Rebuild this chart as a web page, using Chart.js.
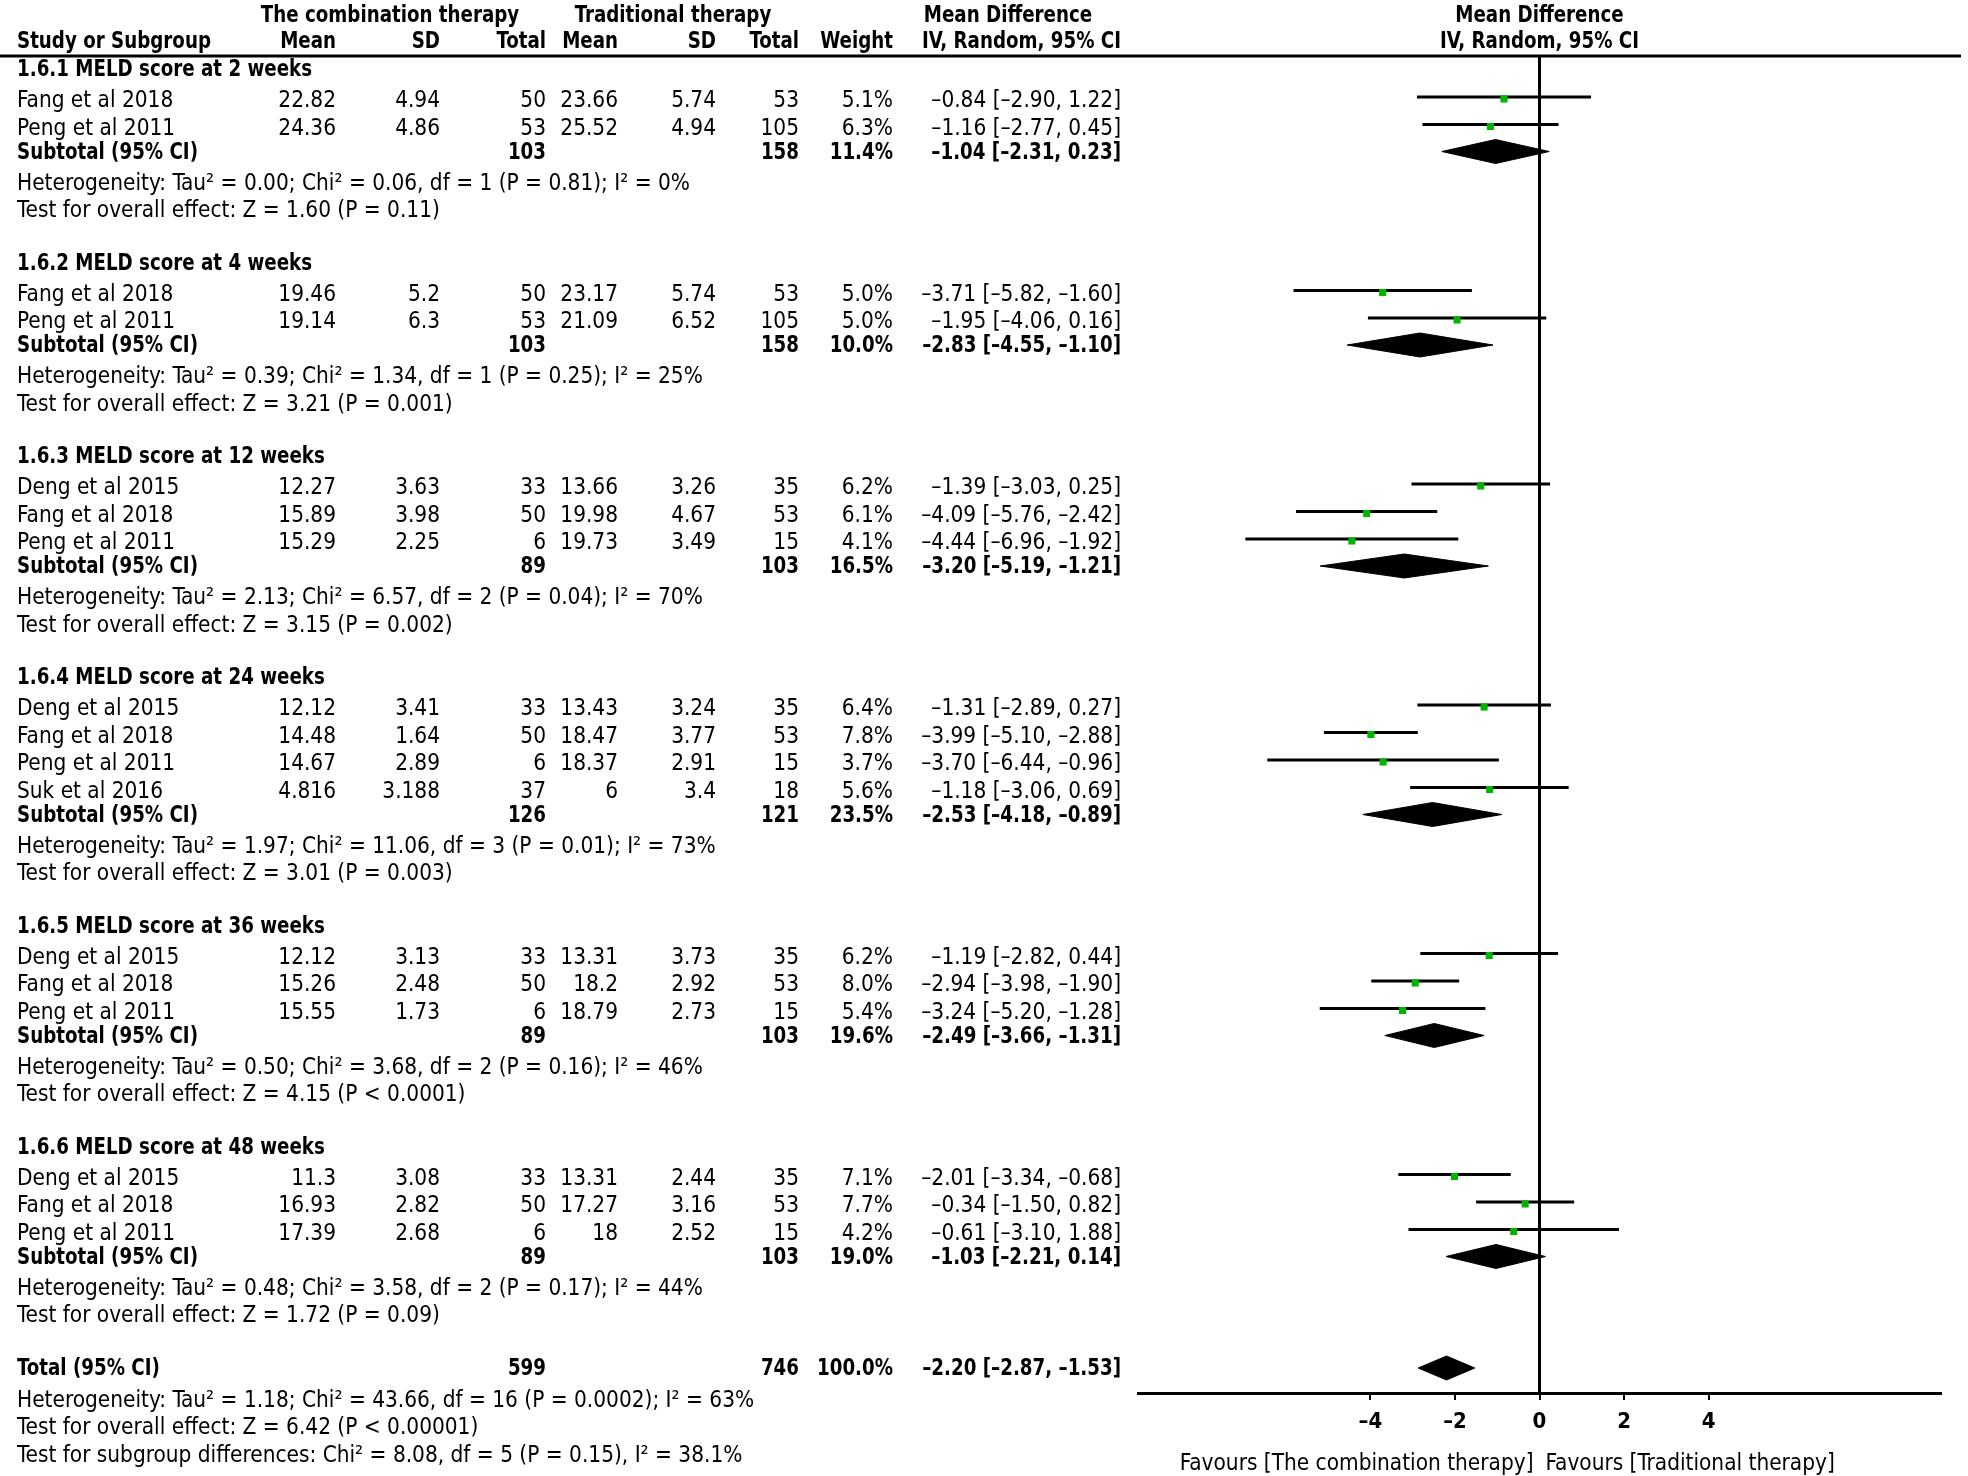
<!DOCTYPE html>
<html>
<head>
<meta charset="utf-8">
<script src="https://cdn.jsdelivr.net/npm/chart.js@4.4.1/dist/chart.umd.min.js"></script>
<style>
  html, body { margin: 0; padding: 0; background: #fff; }
  #wrap { width: 1968px; height: 1476px; position: relative; }
</style>
</head>
<body>
<div id="wrap"><canvas id="forest"></canvas></div>
<script>
// ---- data ----
var groupNames = ["1.6.1 MELD score at 2 weeks", "1.6.2 MELD score at 4 weeks", "1.6.3 MELD score at 12 weeks",
  "1.6.4 MELD score at 24 weeks", "1.6.5 MELD score at 36 weeks", "1.6.6 MELD score at 48 weeks"];

var studyGroup = [0, 0, 1, 1, 2, 2, 2, 3, 3, 3, 3, 4, 4, 4, 5, 5, 5];
var studyNames = ["Fang et al 2018", "Peng et al 2011", "Fang et al 2018", "Peng et al 2011",
  "Deng et al 2015", "Fang et al 2018", "Peng et al 2011",
  "Deng et al 2015", "Fang et al 2018", "Peng et al 2011", "Suk et al 2016",
  "Deng et al 2015", "Fang et al 2018", "Peng et al 2011",
  "Deng et al 2015", "Fang et al 2018", "Peng et al 2011"];
var comboMean = [22.82, 24.36, 19.46, 19.14, 12.27, 15.89, 15.29, 12.12, 14.48, 14.67, 4.816, 12.12, 15.26, 15.55, 11.3, 16.93, 17.39];
var comboSD = [4.94, 4.86, 5.2, 6.3, 3.63, 3.98, 2.25, 3.41, 1.64, 2.89, 3.188, 3.13, 2.48, 1.73, 3.08, 2.82, 2.68];
var comboN = [50, 53, 50, 53, 33, 50, 6, 33, 50, 6, 37, 33, 50, 6, 33, 50, 6];
var tradMean = [23.66, 25.52, 23.17, 21.09, 13.66, 19.98, 19.73, 13.43, 18.47, 18.37, 6, 13.31, 18.2, 18.79, 13.31, 17.27, 18];
var tradSD = [5.74, 4.94, 5.74, 6.52, 3.26, 4.67, 3.49, 3.24, 3.77, 2.91, 3.4, 3.73, 2.92, 2.73, 2.44, 3.16, 2.52];
var tradN = [53, 105, 53, 105, 35, 53, 15, 35, 53, 15, 18, 35, 53, 15, 35, 53, 15];
var studyWeight = [5.1, 6.3, 5.0, 5.0, 6.2, 6.1, 4.1, 6.4, 7.8, 3.7, 5.6, 6.2, 8.0, 5.4, 7.1, 7.7, 4.2];
var studyMD = [-0.84, -1.16, -3.71, -1.95, -1.39, -4.09, -4.44, -1.31, -3.99, -3.70, -1.18, -1.19, -2.94, -3.24, -2.01, -0.34, -0.61];
var studyLo = [-2.90, -2.77, -5.82, -4.06, -3.03, -5.76, -6.96, -2.89, -5.10, -6.44, -3.06, -2.82, -3.98, -5.20, -3.34, -1.50, -3.10];
var studyHi = [1.22, 0.45, -1.60, 0.16, 0.25, -2.42, -1.92, 0.27, -2.88, -0.96, 0.69, 0.44, -1.90, -1.28, -0.68, 0.82, 1.88];

var subComboN = [103, 103, 89, 126, 89, 89];
var subTradN = [158, 158, 103, 121, 103, 103];
var subWeight = [11.4, 10.0, 16.5, 23.5, 19.6, 19.0];
var subMD = [-1.04, -2.83, -3.20, -2.53, -2.49, -1.03];
var subLo = [-2.31, -4.55, -5.19, -4.18, -3.66, -2.21];
var subHi = [0.23, -1.10, -1.21, -0.89, -1.31, 0.14];
var subHet = [
  "Heterogeneity: Tau\u00b2 = 0.00; Chi\u00b2 = 0.06, df = 1 (P = 0.81); I\u00b2 = 0%",
  "Heterogeneity: Tau\u00b2 = 0.39; Chi\u00b2 = 1.34, df = 1 (P = 0.25); I\u00b2 = 25%",
  "Heterogeneity: Tau\u00b2 = 2.13; Chi\u00b2 = 6.57, df = 2 (P = 0.04); I\u00b2 = 70%",
  "Heterogeneity: Tau\u00b2 = 1.97; Chi\u00b2 = 11.06, df = 3 (P = 0.01); I\u00b2 = 73%",
  "Heterogeneity: Tau\u00b2 = 0.50; Chi\u00b2 = 3.68, df = 2 (P = 0.16); I\u00b2 = 46%",
  "Heterogeneity: Tau\u00b2 = 0.48; Chi\u00b2 = 3.58, df = 2 (P = 0.17); I\u00b2 = 44%"];
var subTest = [
  "Test for overall effect: Z = 1.60 (P = 0.11)",
  "Test for overall effect: Z = 3.21 (P = 0.001)",
  "Test for overall effect: Z = 3.15 (P = 0.002)",
  "Test for overall effect: Z = 3.01 (P = 0.003)",
  "Test for overall effect: Z = 4.15 (P < 0.0001)",
  "Test for overall effect: Z = 1.72 (P = 0.09)"];

var totalComboN = 599, totalTradN = 746, totalWeight = 100.0;
var totalMD = -2.20, totalLo = -2.87, totalHi = -1.53;
var totalNotes = [
  "Heterogeneity: Tau\u00b2 = 1.18; Chi\u00b2 = 43.66, df = 16 (P = 0.0002); I\u00b2 = 63%",
  "Test for overall effect: Z = 6.42 (P < 0.00001)",
  "Test for subgroup differences: Chi\u00b2 = 8.08, df = 5 (P = 0.15), I\u00b2 = 38.1%"];

var xTicks = [-4, -2, 0, 2, 4];
var favourLeft = "Favours [The combination therapy]";
var favourRight = "Favours [Traditional therapy]";

// ---- layout (rows in pixel units of the y scale) ----
var FONT = "'Liberation Sans Narrow', 'DejaVu Sans Condensed', 'DejaVu Sans', sans-serif";
var GREEN = "#00b400";
var DASH = "\u2013";
var groupY = [], studyY = [], subY = [], hetY = [], testY = [];
var y = 69, k = 0;
for (var g = 0; g < groupNames.length; g++) {
  groupY[g] = y; y += 31;
  while (k < studyGroup.length && studyGroup[k] === g) { studyY[k] = y; y += 27.5; k++; }
  subY[g] = y - 3.5;
  hetY[g] = subY[g] + 31;
  testY[g] = hetY[g] + 27.5;
  y = testY[g] + 52.5;
}
var totalY = y + 0.5;
var totalNoteY = [totalY + 31.5, totalY + 59, totalY + 86.5];

function num(v) { return (v < 0 ? DASH : "") + Math.abs(v).toFixed(2); }
function ciText(m, lo, hi) { return num(m) + " [" + num(lo) + ", " + num(hi) + "]"; }

// ---- datasets ----
var datasets = [];
datasets.push({
  label: "points", order: 0, showLine: false,
  data: studyMD.map(function (m, i) { return { x: m, y: studyY[i] - 1 }; }),
  pointStyle: "rect", pointRadius: 5, pointBackgroundColor: GREEN, pointBorderWidth: 0
});
studyMD.forEach(function (m, i) {
  datasets.push({
    label: "ci" + i, order: 1, borderColor: "#000", borderWidth: 3, pointRadius: 0,
    data: [{ x: studyLo[i], y: studyY[i] - 3 }, { x: studyHi[i], y: studyY[i] - 3 }]
  });
});
function diamond(m, lo, hi, yy) {
  return [{ x: lo, y: yy }, { x: m, y: yy - 12 }, { x: hi, y: yy }, { x: m, y: yy + 12 }, { x: lo, y: yy }];
}
subMD.forEach(function (m, g) {
  datasets.push({
    label: "sub" + g, order: 1, borderColor: "#000", backgroundColor: "#000", borderWidth: 1,
    pointRadius: 0, fill: "shape", tension: 0, data: diamond(m, subLo[g], subHi[g], subY[g])
  });
});
datasets.push({
  label: "total", order: 1, borderColor: "#000", backgroundColor: "#000", borderWidth: 1,
  pointRadius: 0, fill: "shape", tension: 0, data: diamond(totalMD, totalLo, totalHi, totalY)
});
datasets.push({
  label: "zero", order: 2, borderColor: "#000", borderWidth: 3, pointRadius: 0,
  data: [{ x: 0, y: 56 }, { x: 0, y: 1393 }]
});

// ---- table text ----
var tablePlugin = {
  id: "tableText",
  afterDraw: function (chart) {
    var ctx = chart.ctx, ys = chart.scales.y, xs = chart.scales.x;
    function py(v) { return ys.getPixelForValue(v) + 1.5; }

    // squeeze the installed font to the width of the original's condensed face
    ctx.font = "23px " + FONT;
    var sxReg = 673 / ctx.measureText(subHet[0]).width;
    ctx.font = "bold 23px " + FONT;
    var sxBold = 181 / ctx.measureText("Subtotal (95% CI)").width;

    function txt(s, x, yy, align, bold) {
      ctx.font = (bold ? "bold " : "") + "23px " + FONT;
      ctx.textAlign = align;
      ctx.save();
      ctx.translate(x, yy);
      ctx.scale(bold ? sxBold : sxReg, 1);
      ctx.fillText(s, 0, 0);
      ctx.restore();
    }
    ctx.save();
    ctx.fillStyle = "#000";
    ctx.textBaseline = "middle";

    // header
    var xc = xs.getPixelForValue(0);
    txt("The combination therapy", 390, 16, "center", true);
    txt("Traditional therapy", 673, 16, "center", true);
    txt("Mean Difference", 1008, 16, "center", true);
    txt("Mean Difference", xc, 16, "center", true);
    txt("Study or Subgroup", 17, 42, "left", true);
    txt("Mean", 336, 42, "right", true);
    txt("SD", 440, 42, "right", true);
    txt("Total", 546, 42, "right", true);
    txt("Mean", 618, 42, "right", true);
    txt("SD", 716, 42, "right", true);
    txt("Total", 799, 42, "right", true);
    txt("Weight", 893, 42, "right", true);
    txt("IV, Random, 95% CI", 1121, 42, "right", true);
    txt("IV, Random, 95% CI", xc, 42, "center", true);

    ctx.strokeStyle = "#000";
    ctx.lineWidth = 3;
    ctx.beginPath();
    ctx.moveTo(0, 56); ctx.lineTo(1961, 56);
    ctx.stroke();

    for (var g = 0; g < groupNames.length; g++) {
      txt(groupNames[g], 17, py(groupY[g]), "left", true);
      txt("Subtotal (95% CI)", 17, py(subY[g]), "left", true);
      txt(String(subComboN[g]), 546, py(subY[g]), "right", true);
      txt(String(subTradN[g]), 799, py(subY[g]), "right", true);
      txt(subWeight[g].toFixed(1) + "%", 893, py(subY[g]), "right", true);
      txt(ciText(subMD[g], subLo[g], subHi[g]), 1121, py(subY[g]), "right", true);
      txt(subHet[g], 17, py(hetY[g]), "left", false);
      txt(subTest[g], 17, py(testY[g]), "left", false);
    }
    for (var i = 0; i < studyNames.length; i++) {
      var yy = py(studyY[i]);
      txt(studyNames[i], 17, yy, "left", false);
      txt(String(comboMean[i]), 336, yy, "right", false);
      txt(String(comboSD[i]), 440, yy, "right", false);
      txt(String(comboN[i]), 546, yy, "right", false);
      txt(String(tradMean[i]), 618, yy, "right", false);
      txt(String(tradSD[i]), 716, yy, "right", false);
      txt(String(tradN[i]), 799, yy, "right", false);
      txt(studyWeight[i].toFixed(1) + "%", 893, yy, "right", false);
      txt(ciText(studyMD[i], studyLo[i], studyHi[i]), 1121, yy, "right", false);
    }
    txt("Total (95% CI)", 17, py(totalY), "left", true);
    txt(String(totalComboN), 546, py(totalY), "right", true);
    txt(String(totalTradN), 799, py(totalY), "right", true);
    txt(totalWeight.toFixed(1) + "%", 893, py(totalY), "right", true);
    txt(ciText(totalMD, totalLo, totalHi), 1121, py(totalY), "right", true);
    totalNotes.forEach(function (s, j) { txt(s, 17, py(totalNoteY[j]), "left", false); });

    txt(favourLeft, xc - 6, 1464, "right", false);
    txt(favourRight, xc + 6, 1464, "left", false);
    ctx.restore();
  }
};

var chart = new Chart(document.getElementById("forest").getContext("2d"), {
  type: "line",
  data: { datasets: datasets },
  options: {
    responsive: true,
    maintainAspectRatio: false,
    devicePixelRatio: 1,
    animation: false,
    events: [],
    layout: { padding: { left: 1138, right: 27, top: 55, bottom: 0 } },
    plugins: { legend: { display: false }, tooltip: { enabled: false } },
    scales: {
      x: {
        type: "linear", min: -9.5, max: 9.5,
        afterBuildTicks: function (s) { s.ticks = xTicks.map(function (v) { return { value: v }; }); },
        afterFit: function (s) { s.height = 83; },
        border: { display: true, color: "#000", width: 3 },
        grid: { display: true, drawOnChartArea: false, drawTicks: true, tickLength: 7, color: "#000", lineWidth: 2 },
        ticks: {
          color: "#000", padding: 9, maxRotation: 0,
          font: { family: FONT, size: 22, weight: "bold" },
          callback: function (v) { return v < 0 ? DASH + Math.abs(v) : String(v); }
        }
      },
      y: { type: "linear", display: false, reverse: true, min: 55, max: 1393 }
    }
  },
  plugins: [tablePlugin]
});
</script>
</body>
</html>
